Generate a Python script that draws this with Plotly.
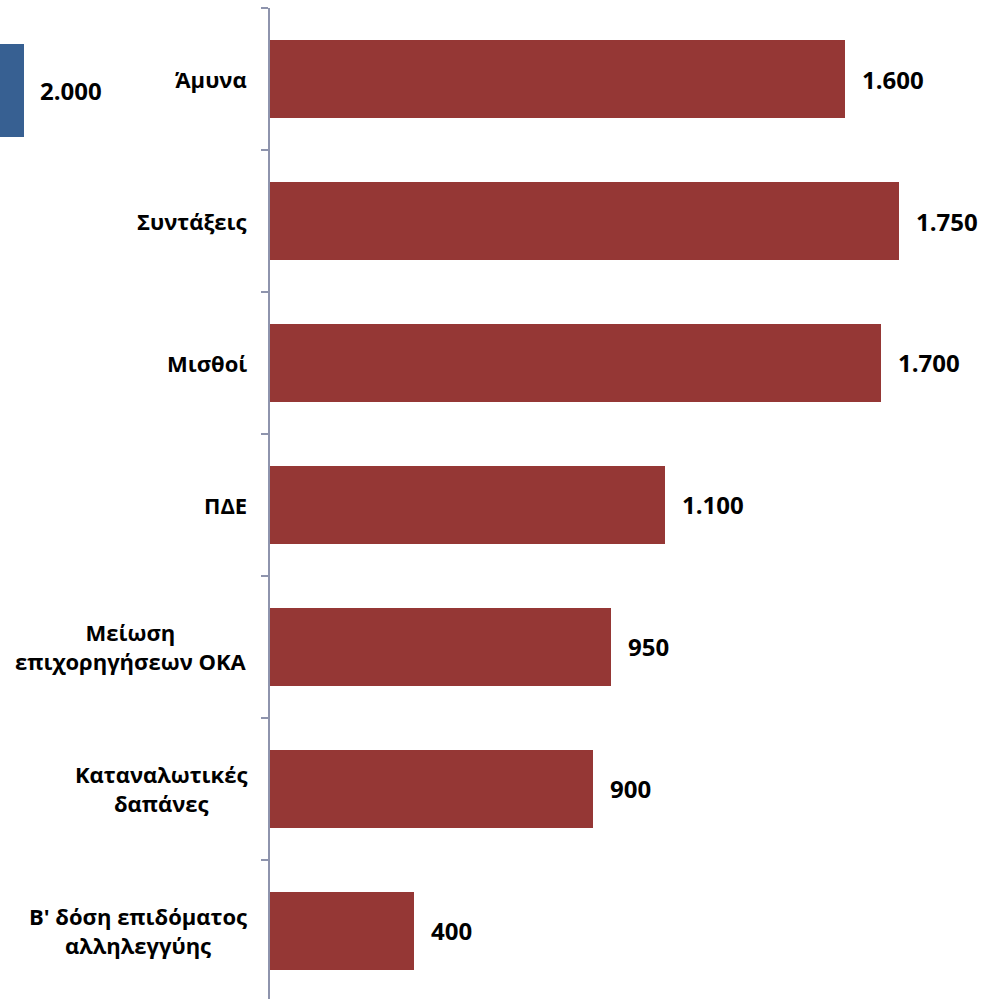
import plotly.graph_objects as go

categories = ["Άμυνα", "Συντάξεις", "Μισθοί", "ΠΔΕ",
              "Μείωση<br>επιχορηγήσεων ΟΚΑ", "Καταναλωτικές<br>δαπάνες",
              "Β' δόση επιδόματος<br>αλληλεγγύης"]
values = [1600, 1750, 1700, 1100, 950, 900, 400]

side_category = ["Σύνολο"]
side_values = [2000]

RED = "#953735"
BLUE = "#376092"
AXIS = "#8e94ad"
FONT = "Open Sans"

def fmt(v):
    return f"{v:,}".replace(",", ".")

n = len(categories)

fig = go.Figure()
fig.add_trace(go.Bar(
    y=list(range(n)), x=values, orientation="h",
    marker=dict(color=RED, line=dict(width=0)), width=0.55,
    xaxis="x", yaxis="y", hoverinfo="skip",
))
fig.add_trace(go.Bar(
    y=[0], x=side_values, orientation="h",
    marker=dict(color=BLUE, line=dict(width=0)), width=1.0,
    xaxis="x2", yaxis="y2", hoverinfo="skip",
))

annotations = []
for i, (c, v) in enumerate(zip(categories, values)):
    annotations.append(dict(
        xref="paper", yref="y", x=249 / 996, y=i, text=c,
        xanchor="right", yanchor="middle", align="center", showarrow=False,
        font=dict(family=FONT, size=22, color="#000000", weight="bold"),
    ))
    annotations.append(dict(
        xref="x", yref="y", x=v, y=i, text=fmt(v),
        xanchor="left", yanchor="middle", xshift=15, showarrow=False,
        font=dict(family=FONT, size=24, color="#000000", weight="bold"),
    ))
annotations.append(dict(
    xref="x2", yref="y2", x=side_values[0], y=0, text=fmt(side_values[0]),
    xanchor="left", yanchor="middle", xshift=14, showarrow=False,
    font=dict(family=FONT, size=24, color="#000000", weight="bold"),
))

fig.update_layout(
    width=996, height=999,
    margin=dict(l=0, r=0, t=0, b=0),
    paper_bgcolor="white", plot_bgcolor="white",
    showlegend=False, bargap=0,
    xaxis=dict(domain=[270 / 996, 1], range=[0, 2020], visible=False, fixedrange=True),
    yaxis=dict(domain=[0, 1 - 8 / 999], range=[6.479, -0.5],
               tickmode="array", tickvals=[i - 0.5 for i in range(n + 1)],
               ticktext=[""] * (n + 1),
               ticks="outside", ticklen=7,
               tickcolor=AXIS, tickwidth=2,
               showline=True, linecolor=AXIS, linewidth=2,
               showgrid=False, zeroline=False, showticklabels=False,
               anchor="x", fixedrange=True),
    xaxis2=dict(domain=[0, 0.1], range=[0, 2000 * 99.6 / 24], visible=False,
                anchor="y2", fixedrange=True),
    yaxis2=dict(domain=[1 - 137 / 999, 1 - 44 / 999], range=[-0.5, 0.5],
                visible=False, anchor="x2", fixedrange=True),
    annotations=annotations,
)

fig.write_html("out.html", config={"displayModeBar": False},
               post_script="document.body.style.margin='0';document.body.style.padding='0';")
